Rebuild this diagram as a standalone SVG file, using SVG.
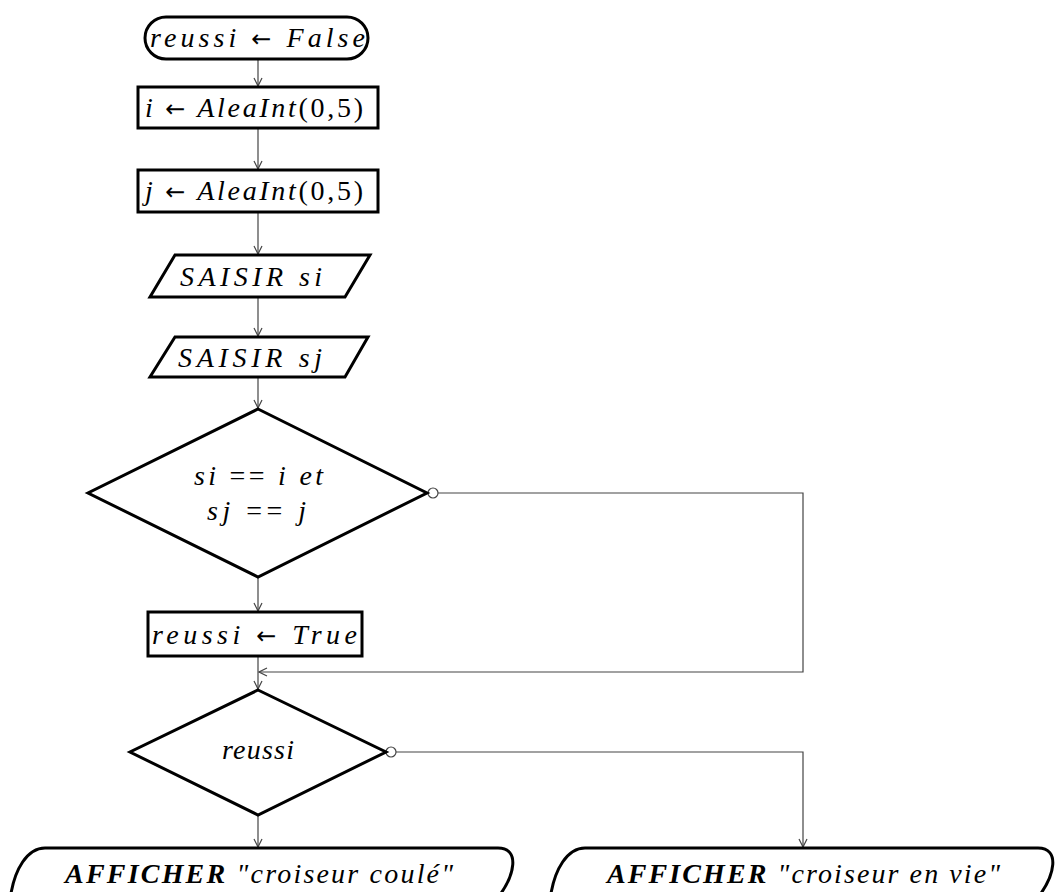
<svg xmlns="http://www.w3.org/2000/svg" width="1056" height="892" viewBox="0 0 1056 892">
  <style>
    .node { fill: #ffffff; stroke: #000000; stroke-width: 3; stroke-linejoin: miter; }
    .lbl { font-family: "Liberation Serif", "DejaVu Serif", serif; font-style: italic; font-size: 28px; fill: #000000; }
    .out { font-size: 28px; }
    .up { font-style: normal; }
    .arr { font-family: "DejaVu Sans", sans-serif; font-style: normal; font-size: 24px; }
    .bold { font-weight: bold; }
    .conn { fill: none; stroke: #444444; stroke-width: 1.2; }
    .dot { fill: #ffffff; stroke: #444444; stroke-width: 1.2; }
  </style>
  <defs>
    <marker id="arrow" viewBox="0 0 10 10" refX="9" refY="5" markerWidth="10" markerHeight="10" markerUnits="userSpaceOnUse" orient="auto">
      <path d="M 1 1 L 9 5 L 1 9" fill="none" stroke="#444444" stroke-width="1.2"/>
    </marker>
  </defs>
  <rect width="1056" height="892" fill="#ffffff"/>

  <g id="connectors">
    <line class="conn" x1="258" y1="59" x2="258" y2="86" marker-end="url(#arrow)"/>
    <line class="conn" x1="258" y1="128" x2="258" y2="169" marker-end="url(#arrow)"/>
    <line class="conn" x1="258" y1="212" x2="258" y2="254" marker-end="url(#arrow)"/>
    <line class="conn" x1="258" y1="297" x2="258" y2="336" marker-end="url(#arrow)"/>
    <line class="conn" x1="258" y1="377" x2="258" y2="408" marker-end="url(#arrow)"/>
    <line class="conn" x1="258" y1="577" x2="258" y2="611" marker-end="url(#arrow)"/>
    <line class="conn" x1="258" y1="656" x2="258" y2="689" marker-end="url(#arrow)"/>
    <polyline class="conn" points="438,493 803,493 803,672 259,672" marker-end="url(#arrow)"/>
    <line class="conn" x1="258" y1="815" x2="258" y2="847" marker-end="url(#arrow)"/>
    <polyline class="conn" points="396,752 803,752 803,847" marker-end="url(#arrow)"/>
    <circle class="dot" cx="433" cy="493" r="5"/>
    <circle class="dot" cx="391" cy="752" r="5"/>
  </g>

  <g id="start">
    <rect class="node" x="145" y="17" width="223" height="42" rx="21" ry="21"/>
    <text class="lbl" x="150" y="47" textLength="215" lengthAdjust="spacing">reussi <tspan class="arr">←</tspan> False</text>
  </g>

  <g id="set-i">
    <rect class="node" x="138" y="87" width="240" height="41"/>
    <text class="lbl" x="145" y="117" textLength="218" lengthAdjust="spacing">i <tspan class="arr">←</tspan> AleaInt<tspan class="up">(0,5)</tspan></text>
  </g>

  <g id="set-j">
    <rect class="node" x="138" y="170" width="240" height="42"/>
    <text class="lbl" x="145" y="200" textLength="218" lengthAdjust="spacing">j <tspan class="arr">←</tspan> AleaInt<tspan class="up">(0,5)</tspan></text>
  </g>

  <g id="input-si">
    <polygon class="node" points="175,255 370,255 345,297 150,297"/>
    <text class="lbl" x="180" y="286" textLength="142" lengthAdjust="spacing">SAISIR si</text>
  </g>

  <g id="input-sj">
    <polygon class="node" points="175,337 368,337 345,377 150,377"/>
    <text class="lbl" x="178" y="367" textLength="144" lengthAdjust="spacing">SAISIR sj</text>
  </g>

  <g id="test-guess">
    <polygon class="node" points="258,409 427,493 258,577 88,493"/>
    <text class="lbl" x="194" y="485" textLength="129" lengthAdjust="spacing">si <tspan class="up">==</tspan> i  et</text>
    <text class="lbl" x="207" y="520" textLength="99" lengthAdjust="spacing">sj <tspan class="up">==</tspan> j</text>
  </g>

  <g id="set-true">
    <rect class="node" x="148" y="612" width="214" height="44"/>
    <text class="lbl" x="152" y="644" textLength="205" lengthAdjust="spacing">reussi <tspan class="arr">←</tspan> True</text>
  </g>

  <g id="test-reussi">
    <polygon class="node" points="258,690 386,752 258,815 130,752"/>
    <text class="lbl" x="222" y="759" textLength="72" lengthAdjust="spacing">reussi</text>
  </g>

  <g id="out-sunk">
    <path class="node" d="M 45 848 L 498 848 C 520 848 516 875 496 900 M 45 848 C 28 848 14 868 10 900"/>
    <text class="lbl out" x="65" y="883" textLength="388" lengthAdjust="spacing"><tspan class="bold">AFFICHER</tspan> "croiseur coulé"</text>
  </g>

  <g id="out-alive">
    <path class="node" d="M 585 848 L 1038 848 C 1060 848 1056 875 1036 900 M 585 848 C 568 848 554 868 550 900"/>
    <text class="lbl out" x="607" y="883" textLength="393" lengthAdjust="spacing"><tspan class="bold">AFFICHER</tspan> "croiseur en vie"</text>
  </g>
</svg>
